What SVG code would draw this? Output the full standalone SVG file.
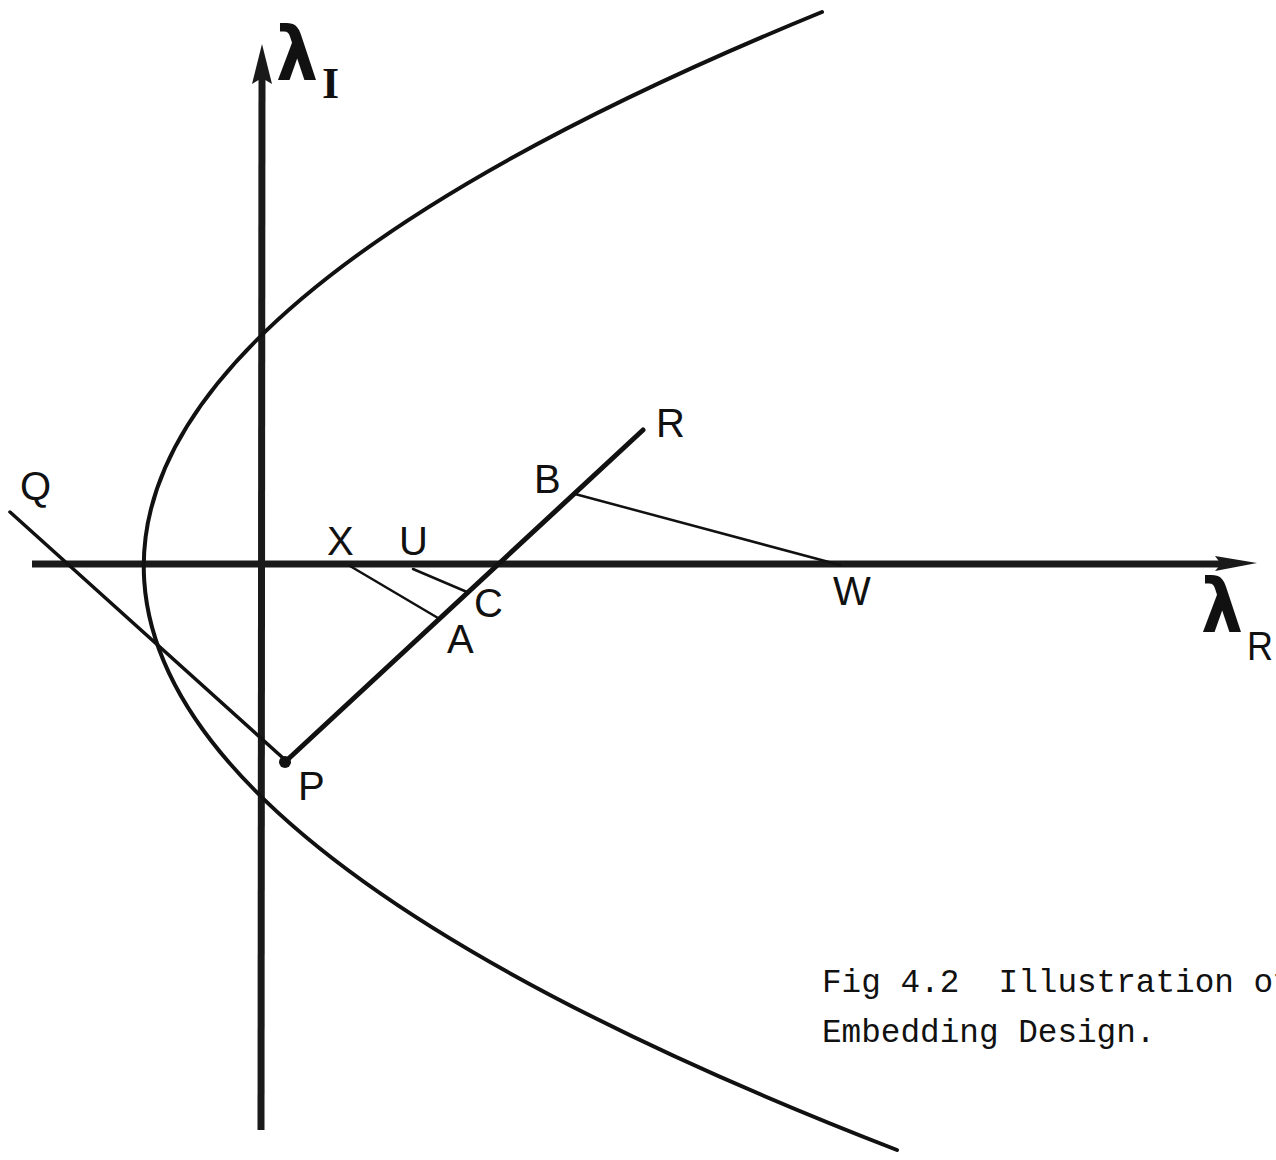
<svg xmlns="http://www.w3.org/2000/svg" width="1276" height="1160" viewBox="0 0 1276 1160">
<style>
.ax{stroke:#1a1a1a;stroke-width:7;fill:none;stroke-linecap:butt}
.crv{stroke:#111;stroke-width:4;fill:none;stroke-linecap:round}
.thick{stroke:#111;stroke-width:5;fill:none;stroke-linecap:round}
.med{stroke:#111;stroke-width:3.5;fill:none;stroke-linecap:round}
.thin{stroke:#111;stroke-width:2.5;fill:none;stroke-linecap:round}
.lbl{font-family:"Liberation Sans","DejaVu Sans",sans-serif;font-size:40px;fill:#111}
.lam{font-family:"DejaVu Sans","Liberation Sans",sans-serif;font-size:74px;font-weight:bold;fill:#111}
.cap{font-family:"Liberation Mono","DejaVu Sans Mono",monospace;font-size:32.7px;fill:#111;white-space:pre}
</style>
<rect width="1276" height="1160" fill="#fff"/>
<g id="axes">
<g id="axis-imag">
<line class="ax" x1="261" y1="1130" x2="262" y2="70"/>
<polygon points="262,44 272,84 262,78 252,84" fill="#1a1a1a"/>
<text class="lam" x="276" y="80" textLength="42" lengthAdjust="spacingAndGlyphs">λ</text>
<text x="322" y="98" font-family="'Liberation Serif',serif" font-size="44" font-weight="bold" fill="#111">I</text>
</g>
<g id="axis-real">
<line class="ax" x1="32" y1="564" x2="1230" y2="564"/>
<polygon points="1257,563 1215,571 1221,564 1215,556" fill="#1a1a1a"/>
<text class="lam" x="1201" y="632" textLength="42" lengthAdjust="spacingAndGlyphs">λ</text>
<text class="lbl" x="1247" y="660" font-size="46" textLength="26" lengthAdjust="spacingAndGlyphs">R</text>
</g>
</g>
<g id="curve">
<path class="crv" d="M 822 12 Q -571 581 897 1150"/>
</g>
<g id="connectors">
<line class="thick" x1="285" y1="762" x2="643" y2="430"/>
<line class="med" x1="10" y1="512" x2="283" y2="758"/>
<line class="thin" x1="350" y1="566" x2="438" y2="618"/>
<line class="thin" x1="413" y1="569" x2="467" y2="592"/>
<line class="thin" x1="575" y1="494" x2="840" y2="565"/>
</g>
<g id="point-P">
<circle cx="285" cy="762" r="6" fill="#111"/>
<text class="lbl" x="298" y="800">P</text>
</g>
<g id="label-Q"><text class="lbl" x="20" y="500">Q</text></g>
<g id="label-X"><text class="lbl" x="327" y="555">X</text></g>
<g id="label-U"><text class="lbl" x="399" y="555">U</text></g>
<g id="label-C"><text class="lbl" x="474" y="617">C</text></g>
<g id="label-A"><text class="lbl" x="447" y="653">A</text></g>
<g id="label-B"><text class="lbl" x="534" y="493">B</text></g>
<g id="label-R"><text class="lbl" x="656" y="437">R</text></g>
<g id="label-W"><text class="lbl" x="833" y="605">W</text></g>
<g id="caption">
<text class="cap" x="822" y="992">Fig 4.2  Illustration of</text>
<text class="cap" x="822" y="1042">Embedding Design.</text>
</g>
</svg>
